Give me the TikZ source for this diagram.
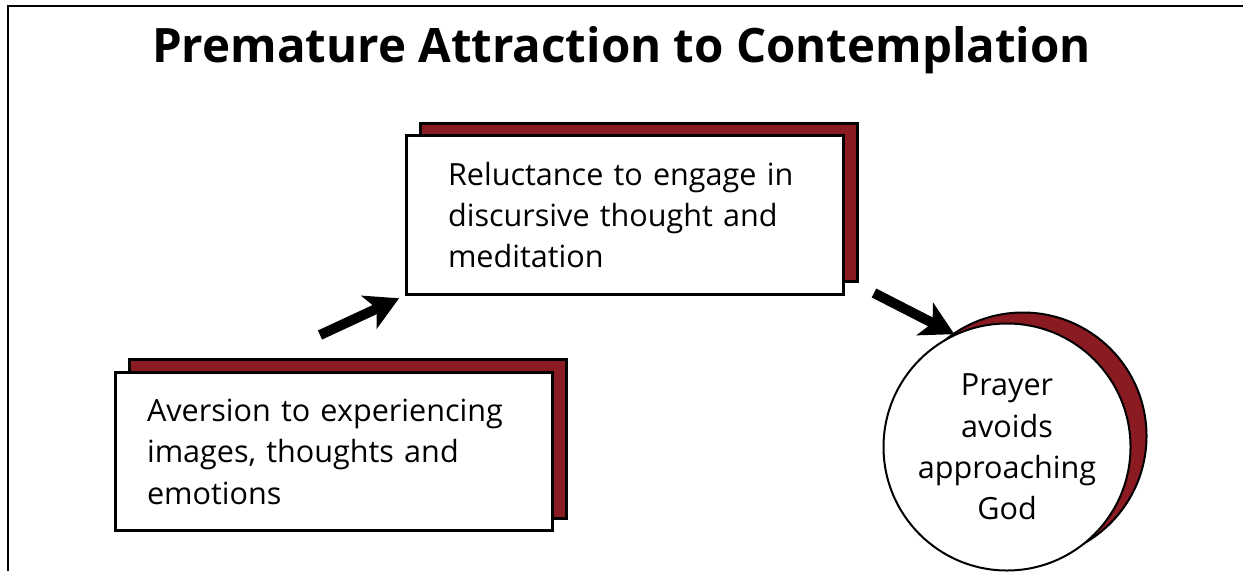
\documentclass[tikz,border=0pt]{standalone}
\usepackage{fontspec}
\setmainfont{Open Sans}
\usepackage{xcolor}
\usepackage{tikz}
\usetikzlibrary{arrows.meta,shadows}
\definecolor{wine}{RGB}{139,27,35}

\begin{document}
\begin{tikzpicture}[x=0.02cm,y=-0.02cm,
   boxtext/.style={font=\fontsize{17.4}{23.6}\selectfont},
   card/.style={draw=black,fill=white,line width=0.06cm,rectangle,
      minimum width=8.76cm,minimum height=3.17cm,align=left,boxtext,
      copy shadow={shadow xshift=0.28cm,shadow yshift=0.25cm,fill=wine,draw=black,line width=0.06cm}},
   disc/.style={draw=black,fill=white,line width=0.04cm,circle,minimum size=4.8cm,
      align=center,boxtext,
      copy shadow={shadow xshift=0.32cm,shadow yshift=0.22cm,fill=wine,draw=black,line width=0.04cm}},
   flow/.style={line width=0.2cm,-{Stealth[length=0.66cm,width=0.72cm,inset=0.17cm]}}]
   \useasboundingbox (0,0) rectangle (1243,571);
   \draw[line width=0.05cm] (1243,6) -- (8,6) -- (8,571);
   \node[anchor=base,font=\fontsize{27}{30}\selectfont\bfseries] (title) at (621.5,63) {Premature Attraction to Contemplation};
   \node[card,inner xsep=0.84cm,text width=7.08cm] (reluct) at (625,215) {Reluctance to engage in\\discursive thought and\\meditation};
   \node[card,inner xsep=0.64cm,text width=7.48cm] (aversion) at (334,451.5) {Aversion to experiencing\\images, thoughts and\\emotions};
   \node[disc] (prayer) at (1007,447) {Prayer\\avoids\\approaching\\God};
   \coordinate (t1) at (320,335);
   \coordinate (t2) at (874,293);
   \draw[flow,shorten >=0.12cm] (t1) -- (reluct.south west);
   \draw[flow] (t2) -- (prayer.115);
   %\draw[flow] (aversion) -- (prayer);
\end{tikzpicture}
\end{document}
